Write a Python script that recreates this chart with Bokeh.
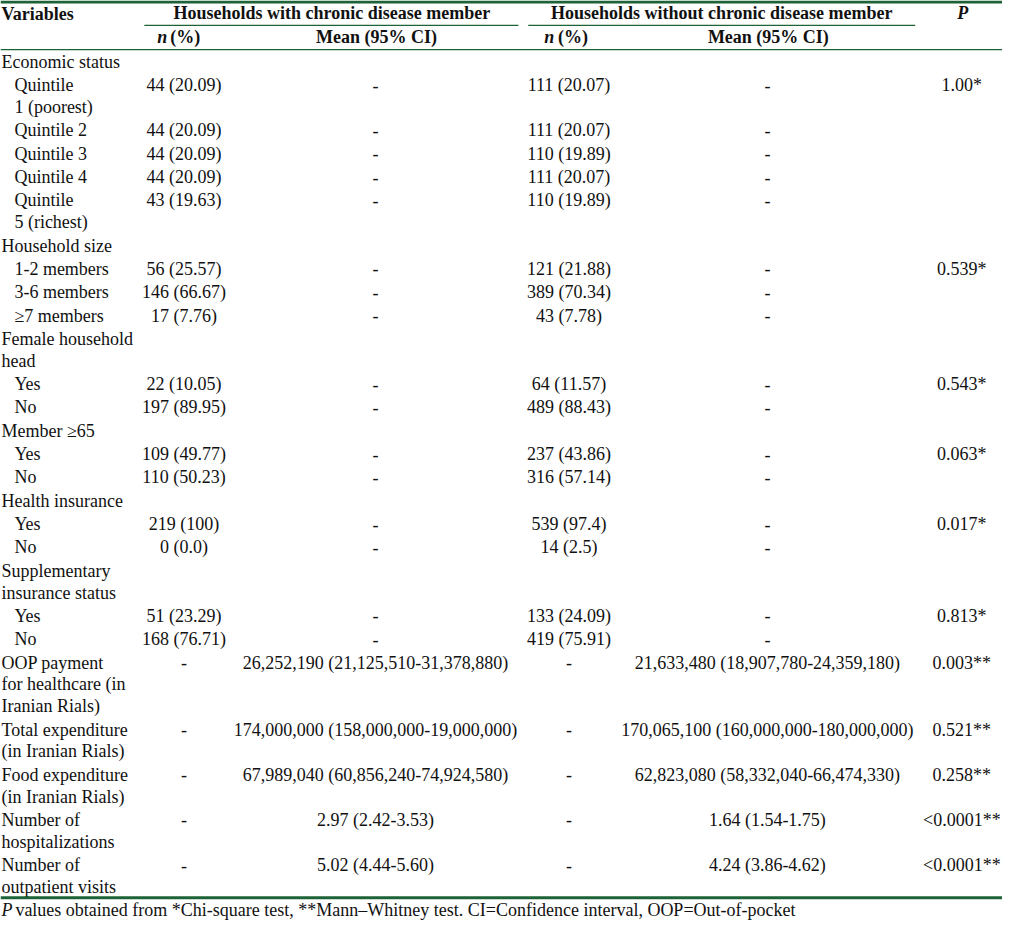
from bokeh.plotting import figure
from bokeh.models import ColumnDataSource, Range1d
from bokeh.core.properties import value
from bokeh.embed import file_html
from bokeh.resources import INLINE

# ---------------- data ----------------
labels = ["Economic status", "Quintile\n1 (poorest)", "Quintile 2", "Quintile 3", "Quintile 4",
          "Quintile\n5 (richest)", "Household size", "1-2 members", "3-6 members", "\u22657 members",
          "Female household\nhead", "Yes", "No", "Member \u226565", "Yes", "No", "Health insurance",
          "Yes", "No", "Supplementary\ninsurance status", "Yes", "No",
          "OOP payment\nfor healthcare (in\nIranian Rials)", "Total expenditure\n(in Iranian Rials)",
          "Food expenditure\n(in Iranian Rials)", "Number of\nhospitalizations",
          "Number of\noutpatient visits"]
indent = [0, 1, 1, 1, 1, 1, 0, 1, 1, 1, 0, 1, 1, 0, 1, 1, 0, 1, 1, 0, 1, 1, 0, 0, 0, 0, 0]
n_with = ["", "44 (20.09)", "44 (20.09)", "44 (20.09)", "44 (20.09)", "43 (19.63)", "",
          "56 (25.57)", "146 (66.67)", "17 (7.76)", "", "22 (10.05)", "197 (89.95)", "",
          "109 (49.77)", "110 (50.23)", "", "219 (100)", "0 (0.0)", "", "51 (23.29)", "168 (76.71)",
          "-", "-", "-", "-", "-"]
mean_with = ["", "-", "-", "-", "-", "-", "", "-", "-", "-", "", "-", "-", "", "-", "-", "",
             "-", "-", "", "-", "-",
             "26,252,190 (21,125,510-31,378,880)", "174,000,000 (158,000,000-19,000,000)",
             "67,989,040 (60,856,240-74,924,580)", "2.97 (2.42-3.53)", "5.02 (4.44-5.60)"]
n_without = ["", "111 (20.07)", "111 (20.07)", "110 (19.89)", "111 (20.07)", "110 (19.89)", "",
             "121 (21.88)", "389 (70.34)", "43 (7.78)", "", "64 (11.57)", "489 (88.43)", "",
             "237 (43.86)", "316 (57.14)", "", "539 (97.4)", "14 (2.5)", "", "133 (24.09)",
             "419 (75.91)", "-", "-", "-", "-", "-"]
mean_without = ["", "-", "-", "-", "-", "-", "", "-", "-", "-", "", "-", "-", "", "-", "-", "",
                "-", "-", "", "-", "-",
                "21,633,480 (18,907,780-24,359,180)", "170,065,100 (160,000,000-180,000,000)",
                "62,823,080 (58,332,040-66,474,330)", "1.64 (1.54-1.75)", "4.24 (3.86-4.62)"]
p_values = ["", "1.00*", "", "", "", "", "", "0.539*", "", "", "", "0.543*", "", "", "0.063*", "",
            "", "0.017*", "", "", "0.813*", "", "0.003**", "0.521**", "0.258**", "<0.0001**",
            "<0.0001**"]
group_headers = ["Households with chronic disease member", "Households without chronic disease member"]
footnote = "values obtained from *Chi-square test, **Mann\u2013Whitney test. CI=Confidence interval, OOP=Out-of-pocket"

# ---------------- layout ----------------
W, H = 1010, 928
FONT = value("Liberation Serif")
FS = "18px"
TXT = "#111111"
GREEN = "#1d6337"

col_n1, col_m1, col_n2, col_m2, col_p = 185, 378, 573, 773, 969
LINE = 22.0
PAD = 1.54
first_y = 62.0

p = figure(width=1002, height=920, output_backend="svg", toolbar_location=None,
           x_range=Range1d(0, W), y_range=Range1d(H, 0), min_border=0,
           background_fill_color="white", border_fill_color="white")
p.axis.visible = False
p.grid.visible = False
p.outline_line_color = None

# rows
lab_x, lab_y, lab_t = [], [], []
val = {k: ([], [], []) for k in ["n1", "m1", "n2", "m2", "p"]}
y = first_y
for i, lab in enumerate(labels):
    parts = lab.split("\n")
    for k, part in enumerate(parts):
        lab_x.append(14 if indent[i] else 1)
        lab_y.append(y + k * LINE)
        lab_t.append(part)
    for key, col, arr in [("n1", col_n1, n_with), ("m1", col_m1, mean_with),
                          ("n2", col_n2, n_without), ("m2", col_m2, mean_without),
                          ("p", col_p, p_values)]:
        if arr[i]:
            val[key][0].append(col)
            val[key][1].append(y)
            val[key][2].append(arr[i])
    y += len(parts) * LINE + PAD

def txt(xs, ys, ts, align="left", style="normal"):
    src = ColumnDataSource(dict(x=xs, y=ys, t=ts))
    p.text(x="x", y="y", text="t", source=src, text_font=FONT, text_font_size=FS,
           text_color=TXT, text_align=align, text_baseline="middle", text_font_style=style)

txt(lab_x, lab_y, lab_t, "left")
for key in val:
    xs, ys, ts = val[key]
    txt(xs, ys, ts, "center")

# header
txt([1], [14], ["Variables"], "left", "bold")
txt([334, 727], [13, 13], group_headers, "center", "bold")
txt([col_p + 1], [13], ["P"], "center", "bold italic")
txt([col_n1 - 27, col_n2 - 25], [37, 37], ["n", "n"], "left", "bold italic")
txt([col_n1 - 14, col_n2 - 11], [37, 37], ["(%)", "(%)"], "left", "bold")
txt([col_m1 + 1, col_m2 + 1], [37, 37], ["Mean (95% CI)", "Mean (95% CI)"], "center", "bold")

# footnote
txt([1], [917], ["P"], "left", "italic")
txt([15], [917], [footnote], "left", "normal")

# rules
p.segment(x0=[0], y0=[1.5], x1=[W], y1=[1.5], line_color=GREEN, line_width=3)
p.segment(x0=[145, 532], y0=[25, 25], x1=[522, 922], y1=[25, 25], line_color=GREEN, line_width=1.2)
p.segment(x0=[0], y0=[49.5], x1=[W], y1=[49.5], line_color=GREEN, line_width=1.3)
p.segment(x0=[0], y0=[905], x1=[W], y1=[905], line_color=GREEN, line_width=3)

open("out.html", "w").write(file_html(p, INLINE))
